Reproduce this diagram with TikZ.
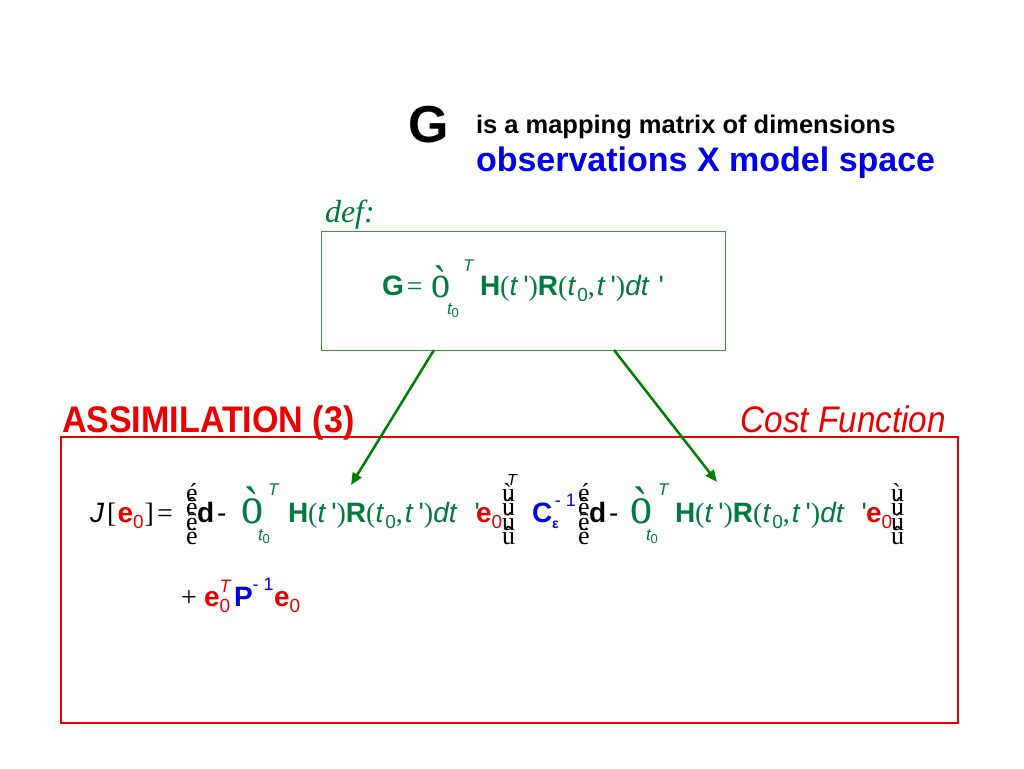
\documentclass[tikz,border=0pt]{standalone}
\usepackage{fontspec}
\setmainfont{Liberation Serif}
\setsansfont{Liberation Sans}
\usepackage{graphicx}
\usetikzlibrary{arrows.meta}
\definecolor{eqgreen}{RGB}{0,122,61}
\definecolor{boxgreen}{RGB}{60,150,60}
\definecolor{arrgreen}{RGB}{0,128,0}
\definecolor{myred}{RGB}{235,0,0}
\definecolor{myblue}{RGB}{0,0,235}
\newcommand{\fs}[1]{\fontsize{#1}{#1}\selectfont}
\newcommand{\lsub}[1]{\raisebox{-0.22em}{\fs{19}\mdseries\upshape #1}}
\newcommand{\tq}{\textquotesingle}
\newcommand{\HRchunk}[2]{\textbf{H}{\rmfamily(}\textit{t}\kern#1\tq{\rmfamily)}\textbf{R}{\rmfamily(}\textit{t}\kern1pt\lsub{0}{\rmfamily,}\kern2pt\textit{t}\kern#1\tq{\rmfamily)}\textit{dt}\kern#2\tq}
\newcommand{\vstack}[4]{\makebox[0pt][l]{#1}\makebox[0pt][l]{\raisebox{-14.5pt}{#2}}\makebox[0pt][l]{\raisebox{-29pt}{#3}}\raisebox{-43.5pt}{#4}}
\tikzset{
  base/.style={inner sep=0pt, outer sep=0pt, anchor=base west},
  eq/.style={base, text=eqgreen, font=\sffamily\fs{28}},
  eqk/.style={base, text=black, font=\sffamily\fs{28}},
  stk/.style={base, text=black, font=\rmfamily\fs{26}},
  intg/.style={base, text=eqgreen, font=\rmfamily\fs{44}},
  lim/.style={base, text=eqgreen, font=\sffamily\itshape\fs{17}},
  arr/.style={draw=arrgreen, line width=2.5pt, -{Triangle[length=12pt,width=10pt]}},
}
\begin{document}
\begin{tikzpicture}[x=1pt,y=-1pt]
\useasboundingbox (0,0) rectangle (1024,768);
\fill[white] (0,0) rectangle (1024,768);
% header
\node[base, font=\sffamily\bfseries\fs{52}] (gbig) at (408,142) {G};
\node[base, font=\sffamily\bfseries\fs{25.5}] (desc) at (476,133) {is a mapping matrix of dimensions};
\node[base, font=\sffamily\bfseries\fs{34}, text=myblue] (obs) at (476,171) {observations X model space};
\node[base, font=\rmfamily\itshape\fs{32}, text=eqgreen] (def) at (325,222) {def:};
% definition box
\node[draw=boxgreen, line width=1pt, minimum width=404pt, minimum height=119pt, inner sep=0pt] (gbox) at (523,290.5) {};
\node[eq] (g2) at (382,295) {\textbf{G}\kern3pt{\rmfamily=}};
\node[intg, font=\rmfamily\fs{38}] (i3) at (431,297) {\scalebox{1}[1.2]{ò}};
\node[lim] (it3) at (463,271) {T};
\node[lim] (il3) at (447,314) {t\lsub{\fs{13}0}};
\node[eq] (hr3) at (480,295) {\HRchunk{5pt}{9pt}};
% titles
\node[base, font=\sffamily\bfseries\fs{37}, text=myred] (assim) at (62,432) {\scalebox{0.92}[1]{ASSIMILATION (3)}};
\node[base, anchor=base east, font=\sffamily\itshape\fs{37}, text=myred] (cost) at (946,432) {\scalebox{0.9}[1]{Cost Function}};
% cost box
\node[draw=myred, line width=2pt, minimum width=897pt, minimum height=286pt, inner sep=0pt] (cbox) at (509.5,580) {};
% line 1
\node[eqk] (j1) at (90,522) {\textit{J}\kern3pt{\rmfamily[}\kern1pt\textcolor{myred}{\textbf{e}\lsub{0}}\kern1pt{\rmfamily]}\kern3pt{\rmfamily=}};
\node[stk] (ls1) at (186,501) {\vstack{é}{ê}{ê}{ë}};
\node[eqk] (d1) at (197,522) {\textbf{d}\kern3pt-};
\node[intg] (i1) at (241,523) {\scalebox{1}[1.2]{ò}};
\node[lim] (it1) at (268,495) {T};
\node[lim] (il1) at (258,540) {t\lsub{\fs{13}0}};
\node[eq] (hr1) at (288,522) {\HRchunk{5pt}{17pt}};
\node[base, font=\sffamily\bfseries\fs{28}, text=myred] (e1) at (476,522) {e\lsub{0}};
\node[stk] (rs1) at (502,501) {\vstack{ù}{ú}{ú}{û}};
\node[base, font=\sffamily\itshape\fs{16}] (rt1) at (507,485) {T};
\node[base, font=\sffamily\fs{28}, text=myblue] (c1) at (532,522) {\textbf{C}\lsub{\fs{14}\bfseries ε}\kern-4pt\raisebox{0.55em}{\fs{18}- 1}};
\node[stk] (ls2) at (578,501) {\vstack{é}{ê}{ê}{ë}};
\node[eqk] (d2) at (589,522) {\textbf{d}\kern3pt-};
\node[intg] (i2) at (630,523) {\scalebox{1}[1.2]{ò}};
\node[lim] (it2) at (658,495) {T};
\node[lim] (il2) at (646,540) {t\lsub{\fs{13}0}};
\node[eq] (hr2) at (675,522) {\HRchunk{5pt}{17pt}};
\node[base, font=\sffamily\bfseries\fs{28}, text=myred] (e2) at (866,522) {e\lsub{0}};
\node[stk] (rs2) at (891,501) {\vstack{ù}{ú}{ú}{û}};
% line 2
\node[eqk, font=\rmfamily\fs{28}] (plus) at (181,606) {+};
\node[base, font=\sffamily\bfseries\fs{28}, text=myred] (e3) at (204,606) {e\rlap{\raisebox{0.5em}{\fs{18}\mdseries\itshape T}}\lsub{0}};
\node[base, font=\sffamily\bfseries\fs{28}, text=myblue] (p1) at (234,606) {P\raisebox{0.55em}{\fs{18}\mdseries - 1}};
\node[base, font=\sffamily\bfseries\fs{28}, text=myred] (e4) at (274,606) {e\lsub{0}};
% arrows
\coordinate (a1s) at (434,350);
\coordinate (a1e) at (351,485);
\coordinate (a2s) at (614,350);
\coordinate (a2e) at (717,482);
\draw[arr] (a1s) -- (a1e);
\draw[arr] (a2s) -- (a2e);
\end{tikzpicture}
\end{document}
